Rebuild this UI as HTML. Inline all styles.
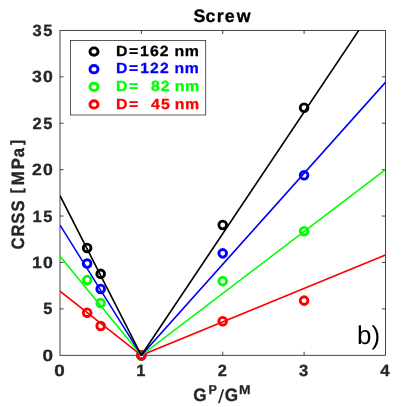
<!DOCTYPE html>
<html><head><meta charset="utf-8"><title>Screw</title>
<style>html,body{margin:0;padding:0;background:#fff;}svg{display:block;will-change:transform;}text{font-family:"Liberation Sans", sans-serif;white-space:pre;text-rendering:geometricPrecision;}</style>
</head><body>
<svg width="407" height="407" viewBox="0 0 407 407">
<rect x="0" y="0" width="407" height="407" fill="#ffffff"/>
<defs><clipPath id="c"><rect x="60.00" y="30.40" width="325.15" height="325.30"/></clipPath></defs>
<g stroke="#262626" stroke-width="0.85" fill="none">
<rect x="60.00" y="30.40" width="325.45" height="324.90"/>
<path d="M141.36 355.30V351.70 M141.36 30.40V34.00"/>
<path d="M222.72 355.30V351.70 M222.72 30.40V34.00"/>
<path d="M304.09 355.30V351.70 M304.09 30.40V34.00"/>
<path d="M60.00 308.89H63.60 M385.45 308.89H381.85"/>
<path d="M60.00 262.47H63.60 M385.45 262.47H381.85"/>
<path d="M60.00 216.06H63.60 M385.45 216.06H381.85"/>
<path d="M60.00 169.64H63.60 M385.45 169.64H381.85"/>
<path d="M60.00 123.23H63.60 M385.45 123.23H381.85"/>
<path d="M60.00 76.81H63.60 M385.45 76.81H381.85"/>
</g>
<g fill="none" stroke-width="2.85">
<circle cx="87.12" cy="247.99" r="3.85" stroke="#000000"/>
<circle cx="100.68" cy="273.89" r="3.85" stroke="#000000"/>
<circle cx="141.36" cy="355.30" r="3.85" stroke="#000000"/>
<circle cx="222.72" cy="224.97" r="3.85" stroke="#000000"/>
<circle cx="304.09" cy="107.73" r="3.85" stroke="#000000"/>
<circle cx="87.12" cy="263.59" r="3.85" stroke="#0000ff"/>
<circle cx="100.68" cy="288.93" r="3.85" stroke="#0000ff"/>
<circle cx="141.36" cy="355.30" r="3.85" stroke="#0000ff"/>
<circle cx="222.72" cy="253.37" r="3.85" stroke="#0000ff"/>
<circle cx="304.09" cy="175.31" r="3.85" stroke="#0000ff"/>
<circle cx="87.12" cy="280.11" r="3.85" stroke="#00ff00"/>
<circle cx="100.68" cy="302.94" r="3.85" stroke="#00ff00"/>
<circle cx="141.36" cy="355.30" r="3.85" stroke="#00ff00"/>
<circle cx="222.72" cy="281.13" r="3.85" stroke="#00ff00"/>
<circle cx="304.09" cy="231.19" r="3.85" stroke="#00ff00"/>
<circle cx="87.12" cy="312.69" r="3.85" stroke="#ff0000"/>
<circle cx="100.68" cy="325.97" r="3.85" stroke="#ff0000"/>
<circle cx="141.36" cy="355.30" r="3.85" stroke="#ff0000"/>
<circle cx="222.72" cy="321.23" r="3.85" stroke="#ff0000"/>
<circle cx="304.09" cy="300.62" r="3.85" stroke="#ff0000"/>
</g>
<g fill="none" stroke-width="1.60" stroke-linejoin="miter" clip-path="url(#c)">
<polyline points="60.00,291.25 141.36,355.30 385.45,255.05" stroke="#ff0000"/>
<polyline points="60.00,256.25 141.36,355.30 385.45,169.63" stroke="#00ff00"/>
<polyline points="60.00,225.06 141.36,355.30 385.45,82.38" stroke="#0000ff"/>
<polyline points="60.00,195.63 141.36,355.30 385.45,-9.52" stroke="#000000"/>
</g>
<text xml:space="preserve" transform="scale(1.1617 1)" x="36.64" y="360.90" font-size="16.28" font-weight="bold" fill="#262626" stroke="#262626" stroke-width="0.31" stroke-linejoin="round">0</text>
<text xml:space="preserve" transform="scale(1.0122 1)" x="42.74" y="314.49" font-size="16.28" font-weight="bold" fill="#262626" stroke="#262626" stroke-width="0.31" stroke-linejoin="round">5</text>
<text xml:space="preserve" transform="scale(1.0882 1)" x="29.52 39.42" y="268.07" font-size="16.28" font-weight="bold" fill="#262626" stroke="#262626" stroke-width="0.31" stroke-linejoin="round">10</text>
<text xml:space="preserve" transform="scale(1.0118 1)" x="32.11 42.75" y="221.66" font-size="16.28" font-weight="bold" fill="#262626" stroke="#262626" stroke-width="0.31" stroke-linejoin="round">15</text>
<text xml:space="preserve" transform="scale(1.0841 1)" x="29.61 39.58" y="175.24" font-size="16.28" font-weight="bold" fill="#262626" stroke="#262626" stroke-width="0.31" stroke-linejoin="round">20</text>
<text xml:space="preserve" transform="scale(1.0104 1)" x="32.10 42.82" y="128.83" font-size="16.28" font-weight="bold" fill="#262626" stroke="#262626" stroke-width="0.31" stroke-linejoin="round">25</text>
<text xml:space="preserve" transform="scale(1.0847 1)" x="29.62 39.56" y="82.41" font-size="16.28" font-weight="bold" fill="#262626" stroke="#262626" stroke-width="0.31" stroke-linejoin="round">30</text>
<text xml:space="preserve" transform="scale(1.0132 1)" x="32.02 42.69" y="36.00" font-size="16.28" font-weight="bold" fill="#262626" stroke="#262626" stroke-width="0.31" stroke-linejoin="round">35</text>
<text xml:space="preserve" transform="scale(1.1617 1)" x="46.71" y="375.70" font-size="16.28" font-weight="bold" fill="#262626" stroke="#262626" stroke-width="0.31" stroke-linejoin="round">0</text>
<text xml:space="preserve" transform="scale(1.0114 1)" x="134.80" y="375.70" font-size="16.28" font-weight="bold" fill="#262626" stroke="#262626" stroke-width="0.31" stroke-linejoin="round">1</text>
<text xml:space="preserve" transform="scale(1.0084 1)" x="215.82" y="375.70" font-size="16.28" font-weight="bold" fill="#262626" stroke="#262626" stroke-width="0.31" stroke-linejoin="round">2</text>
<text xml:space="preserve" transform="scale(1.0142 1)" x="294.83" y="375.70" font-size="16.28" font-weight="bold" fill="#262626" stroke="#262626" stroke-width="0.31" stroke-linejoin="round">3</text>
<text xml:space="preserve" transform="scale(1.0401 1)" x="365.50" y="375.70" font-size="16.28" font-weight="bold" fill="#262626" stroke="#262626" stroke-width="0.31" stroke-linejoin="round">4</text>
<text xml:space="preserve" transform="scale(0.9935 1)" x="194.86 206.75 218.09 226.32 238.19" y="22.00" font-size="17.90" font-weight="bold" fill="#000" stroke="#000" stroke-width="0.34" stroke-linejoin="round">Screw</text>
<text xml:space="preserve" transform="scale(0.9559 1)" x="202.09" y="401.40" font-size="17.90" font-weight="bold" fill="#262626" stroke="#262626" stroke-width="0.34" stroke-linejoin="round">G</text>
<text xml:space="preserve" transform="scale(0.9762 1)" x="213.53" y="394.10" font-size="12.92" font-weight="bold" fill="#262626" stroke="#262626" stroke-width="0.25" stroke-linejoin="round">P</text>
<text xml:space="preserve" transform="scale(1.1700 1)" x="186.25" y="402.80" font-size="19.05" font-weight="normal" fill="#262626">/</text>
<text xml:space="preserve" transform="scale(0.9559 1)" x="235.15" y="401.40" font-size="17.90" font-weight="bold" fill="#262626" stroke="#262626" stroke-width="0.34" stroke-linejoin="round">G</text>
<text xml:space="preserve" transform="scale(1.0774 1)" x="221.75" y="394.10" font-size="12.92" font-weight="bold" fill="#262626" stroke="#262626" stroke-width="0.25" stroke-linejoin="round">M</text>
<text xml:space="preserve" transform="translate(23.5 0) rotate(-90) scale(0.9290 1)" x="-268.52 -254.50 -240.74 -227.77 -215.40 -207.90 -199.40 -182.19 -169.33 -156.02" y="0.00" font-size="17.90" font-weight="bold" fill="#262626" stroke="#262626" stroke-width="0.34" stroke-linejoin="round">CRSS <tspan font-size="16.15" y="-1.14">[</tspan><tspan y="0.00">M</tspan>Pa<tspan font-size="16.15" y="-1.14">]</tspan></text>
<text x="357.1" y="343.7" font-size="26" font-weight="normal" fill="#000">b)</text>
<rect x="70.50" y="40.60" width="135.20" height="74.40" fill="#fff" stroke="#262626" stroke-width="0.75"/>
<ellipse cx="94.0" cy="51.60" rx="4.05" ry="3.70" fill="none" stroke="#000000" stroke-width="2.90"/>
<text xml:space="preserve" transform="scale(1.0807 1)" x="107.39 119.30 129.63 138.81 147.91 156.59 161.37 170.86" y="55.80" font-size="14.70" font-weight="bold" fill="#000000" stroke="#000000" stroke-width="0.28" stroke-linejoin="round">D=162 nm</text>
<ellipse cx="94.0" cy="69.20" rx="4.05" ry="3.70" fill="none" stroke="#0000ff" stroke-width="2.90"/>
<text xml:space="preserve" transform="scale(1.0701 1)" x="108.50 120.52 130.96 140.16 149.41 158.13 163.02 172.61" y="73.40" font-size="14.70" font-weight="bold" fill="#0000ff" stroke="#0000ff" stroke-width="0.28" stroke-linejoin="round">D=122 nm</text>
<ellipse cx="94.0" cy="86.80" rx="4.05" ry="3.70" fill="none" stroke="#00ff00" stroke-width="2.90"/>
<text xml:space="preserve" transform="scale(1.0820 1)" x="107.25 119.14 129.87 134.45 139.50 148.65 156.77 161.54 171.01" y="91.00" font-size="14.70" font-weight="bold" fill="#00ff00" stroke="#00ff00" stroke-width="0.28" stroke-linejoin="round">D=  82 nm</text>
<ellipse cx="94.0" cy="104.40" rx="4.05" ry="3.70" fill="none" stroke="#ff0000" stroke-width="2.90"/>
<text xml:space="preserve" transform="scale(1.0782 1)" x="107.64 119.58 130.33 134.93 139.94 149.23 157.32 162.13 171.64" y="108.60" font-size="14.70" font-weight="bold" fill="#ff0000" stroke="#ff0000" stroke-width="0.28" stroke-linejoin="round">D=  45 nm</text>
</svg></body></html>
